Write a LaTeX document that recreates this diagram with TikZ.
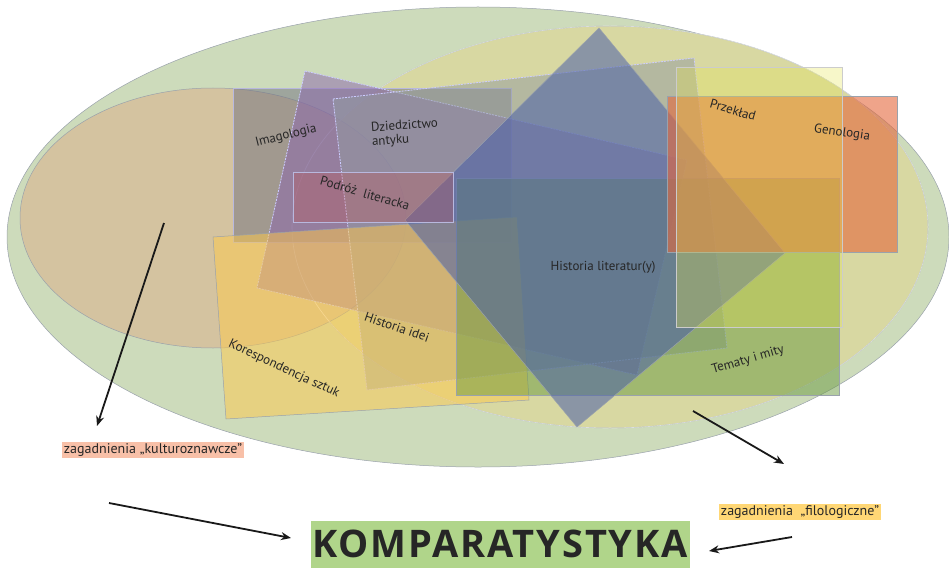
\documentclass[tikz,border=0pt]{standalone}
\usepackage{fontspec}
\setmainfont{PT Sans}
\newfontfamily\komparfont[LetterSpace=5]{Open Sans}
\usetikzlibrary{arrows.meta}

\definecolor{outergreen}{HTML}{CDDBBB}
\definecolor{filolyellow}{HTML}{D8D8A2}
\definecolor{kulturtan}{HTML}{D4C3A0}
\definecolor{imaggrey}{HTML}{707080}
\definecolor{purplerect}{HTML}{8B65AD}
\definecolor{antykgrey}{HTML}{929AA0}
\definecolor{koresporange}{HTML}{FFC949}
\definecolor{litblue}{HTML}{4A5FA8}
\definecolor{tematgreen}{HTML}{6A9A40}
\definecolor{podrozred}{HTML}{C05050}
\definecolor{przekladorange}{HTML}{E4673C}
\definecolor{lightyellow}{HTML}{E6E64C}
\definecolor{edgegrey}{HTML}{9AA2AC}
\definecolor{kulturbg}{HTML}{F8C0A8}
\definecolor{filolbg}{HTML}{FFD775}
\definecolor{komparbg}{HTML}{B0D58A}

\begin{document}
\begin{tikzpicture}[
		x=1pt, y=-1pt,
		every node/.style={font=\fontsize{13}{14}\selectfont, text=black!85, inner sep=1.5pt},
		area/.style={draw=edgegrey, line width=0.5pt},
		dashedge/.style={draw=white!80!blue, dash pattern=on 2pt off 1pt, line width=0.8pt},
		pointer/.style={-{Stealth[length=10pt, width=8pt]}, line width=1.8pt, black!90}
	]
  \useasboundingbox (0,0) rectangle (949,567);

  % ellipses
  \draw [area, fill=outergreen] (478,237) ellipse [x radius=471pt, y radius=230pt];
  \draw [area, fill=filolyellow] (610,227) ellipse [x radius=318pt, y radius=201pt];
  \draw [area, fill=kulturtan] (213,218) ellipse [x radius=193pt, y radius=130pt];
  \draw [draw=white, opacity=0.6, line width=0.6pt] (610,227) ellipse [x radius=318pt, y radius=201pt];

  % fields
  \fill [imaggrey, fill opacity=0.5] (233,88) rectangle (511,242);
  \draw [draw=black!15!white!85!blue, line width=0.6pt] (233,88) rectangle (511,242);
  \fill [purplerect, fill opacity=0.5] (305,71) -- (687,160) -- (637,375) -- (257,288) -- cycle;
  \draw [dashedge] (305,71) -- (687,160) -- (637,375) -- (257,288) -- cycle;
  \fill [antykgrey, fill opacity=0.5] (333,99) -- (694,58) -- (727,348) -- (367,390) -- cycle;
  \draw [dashedge] (333,99) -- (694,58) -- (727,348) -- (367,390) -- cycle;
  \draw [area, fill=koresporange, fill opacity=0.5] (213,237) -- (517,217) -- (529,400) -- (226,419) -- cycle;
  \draw [area, fill=tematgreen, fill opacity=0.5] (456,178) rectangle (839,395);
  \draw [area, fill=litblue, fill opacity=0.55] (599,28) -- (785,253) -- (577,427) -- (405,220) -- cycle;
  \draw [draw=black!15!white!85!blue, fill=podrozred, fill opacity=0.3] (293,172) rectangle (453,222);
  \draw [area, fill=przekladorange, fill opacity=0.6] (667,96) rectangle (897,252);
  \draw [draw=black!20, fill=lightyellow, fill opacity=0.3] (676,67) rectangle (842,327);

  % labels
  \node (imag) [rotate=14] at (286,136) {Imagologia};
  \node (antyk) [rotate=4, align=left] at (405,133) {Dziedzictwo\\antyku};
  \node (podroz) [rotate=-16] at (365,193) {Podróż\ \ literacka};
  \node (przeklad) [rotate=-16] at (733,110) {Przekład};
  \node (genol) [rotate=-8] at (842,133) {Genologia};
  \node (histlit) at (603,267) {Historia literatur(y)};
  \node (histidei) [rotate=-19] at (397,327) {Historia idei};
  \node (koresp) [rotate=-25] at (284,369) {Korespondencja sztuk};
  \node (tematy) [rotate=16] at (748,360) {Tematy i mity};

  \node (kultur) [fill=kulturbg, font=\fontsize{14}{15}\selectfont] at (153,450) {zagadnienia „kulturoznawcze”};
  \node (filol) [fill=filolbg, font=\fontsize{14}{15}\selectfont] at (800,512) {zagadnienia \ „filologiczne”};
  \node (kompar) [fill=komparbg, minimum width=379pt, minimum height=47pt,
    font=\komparfont\bfseries\fontsize{38}{40}\selectfont] at (500,544) {KOMPARATYSTYKA};

  % arrows
  \coordinate (k0) at (164,223);
  \coordinate (k1) at (97,426);
  \coordinate (f0) at (693,411);
  \coordinate (f1) at (784,464);
  \coordinate (ka) at (109,503);
  \coordinate (kb) at (291,538);
  \coordinate (fa) at (792,537);
  \coordinate (fb) at (709,551);

  \draw [pointer] (k0) -- (k1);
  \draw [pointer] (f0) -- (f1);
  \draw [pointer] (ka) -- (kb);
  \draw [pointer] (fa) -- (fb);
\end{tikzpicture}
\end{document}
